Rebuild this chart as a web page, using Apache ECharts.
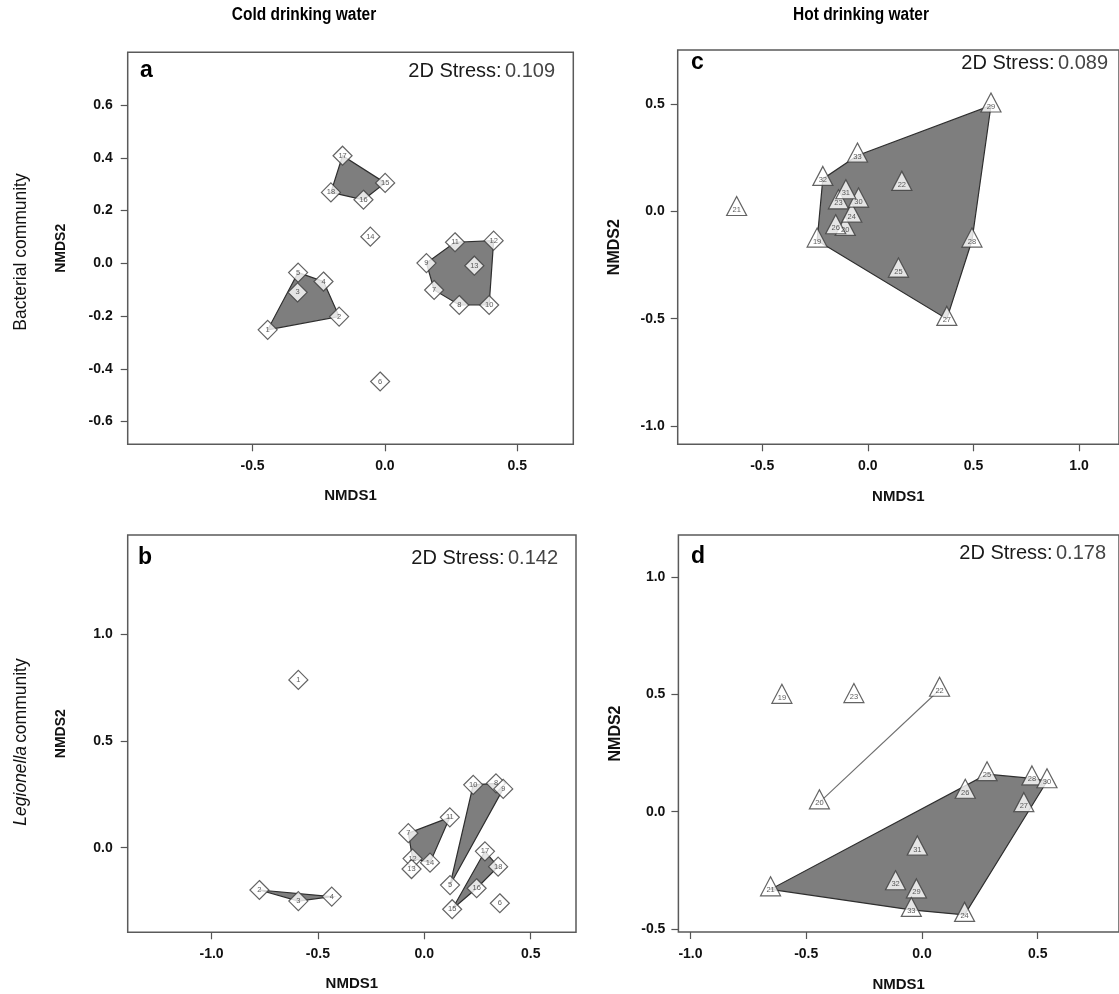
<!DOCTYPE html>
<html>
<head>
<meta charset="utf-8">
<script src="https://cdn.jsdelivr.net/npm/echarts@6/dist/echarts.min.js"></script>
<style>
html,body{margin:0;padding:0;background:#fff;}
#chart{width:1119px;height:994px;}
</style>
</head>
<body>
<div id="chart"></div>
<script>
// ---------------- DATA ----------------
// Panel a: cold drinking water, bacterial community (sites 1-18)
const coldIds = [1,2,3,4,5,6,7,8,9,10,11,12,13,14,15,16,17,18];
const aX = [-0.443,-0.173,-0.330,-0.232,-0.328,-0.018,0.186,0.281,0.157,0.394,0.265,0.411,0.338,-0.055,0.001,-0.081,-0.160,-0.204];
const aY = [-0.252,-0.202,-0.110,-0.069,-0.035,-0.448,-0.101,-0.158,0.001,-0.158,0.080,0.086,-0.009,0.101,0.305,0.241,0.408,0.269];
const aHulls = [[1,2,3,4,5],[7,8,9,10,11,12,13],[15,16,17,18]];
const aStress = '0.109';

// Panel b: cold drinking water, Legionella community (sites 1-18)
const bX = [-0.592,-0.775,-0.592,-0.435,0.121,0.355,-0.075,0.337,0.371,0.230,0.120,-0.055,-0.060,0.027,0.131,0.246,0.285,0.347];
const bY = [0.785,-0.198,-0.250,-0.229,-0.175,-0.260,0.068,0.301,0.275,0.294,0.142,-0.051,-0.100,-0.070,-0.288,-0.190,-0.017,-0.089];
const bHulls = [[2,3,4],[7,11,12,14],[5,8,9,10],[15,16,17,18]];
const bStress = '0.142';

// Panel c: hot drinking water, bacterial community (sites 19-33)
const hotIds = [19,20,21,22,23,24,25,26,27,28,29,30,31,32,33];
const cX = [-0.240,-0.107,-0.621,0.161,-0.139,-0.076,0.145,-0.152,0.374,0.493,0.583,-0.044,-0.104,-0.213,-0.049];
const cY = [-0.136,-0.082,0.011,0.128,0.042,-0.020,-0.276,-0.074,-0.501,-0.136,0.493,0.050,0.089,0.151,0.260];
const cHulls = [[19,20,22,23,24,25,26,27,28,29,30,31,32,33]];
const cStress = '0.089';

// Panel d: hot drinking water, Legionella community (sites 19-33)
const dX = [-0.605,-0.443,-0.654,0.076,-0.294,0.184,0.281,0.187,0.440,0.475,-0.024,0.540,-0.020,-0.114,-0.046];
const dY = [0.490,0.040,-0.331,0.520,0.493,-0.440,0.160,0.085,0.028,0.142,-0.340,0.130,-0.157,-0.305,-0.419];
const dHulls = [[21,24,25,26,27,28,29,30,31,32,33],[20,22]];
const dStress = '0.178';

// Tick values
const aXTicks = [-0.5, 0.0, 0.5];
const aYTicks = [-0.6,-0.4,-0.2,0.0,0.2,0.4,0.6];
const bXTicks = [-1.0,-0.5,0.0,0.5];
const bYTicks = [0.0,0.5,1.0];
const cXTicks = [-0.5,0.0,0.5,1.0];
const cYTicks = [-1.0,-0.5,0.0,0.5];
const dXTicks = [-1.0,-0.5,0.0,0.5];
const dYTicks = [-0.5,0.0,0.5,1.0];

// Texts
const colTitles = ['Cold drinking water','Hot drinking water'];
const xName = 'NMDS1', yName = 'NMDS2';

// ---------------- LAYOUT ----------------
const panels = [
  {ids:coldIds, x:aX, y:aY, hulls:aHulls, stress:aStress, letter:'a', symbol:'diamond',
   grid:{left:127.7, top:52.3, width:445.6, height:392}, xr:[-0.972,0.712], yr:[-0.686,0.800],
   xt:aXTicks, yt:aYTicks, yNameSize:14, yGap:60, xGap:44, yMargin:15,
   letterPos:[140,70.5], stressPos:[555,71]},
  {ids:coldIds, x:bX, y:bY, hulls:bHulls, stress:bStress, letter:'b', symbol:'diamond',
   grid:{left:127.7, top:535, width:448.3, height:397.3}, xr:[-1.394,0.713], yr:[-0.396,1.463],
   xt:bXTicks, yt:bYTicks, yNameSize:14, yGap:60, xGap:44, yMargin:15,
   letterPos:[138,558], stressPos:[558,558]},
  {ids:hotIds, x:cX, y:cY, hulls:cHulls, stress:cStress, letter:'c', symbol:'triangle',
   grid:{left:677.7, top:50, width:446, height:394.3}, xr:[-0.900,1.189], yr:[-1.085,0.7515],
   xt:cXTicks, yt:cYTicks, yNameSize:16, yGap:55, xGap:45, yMargin:13,
   letterPos:[691,63], stressPos:[1108,63.5]},
  {ids:hotIds, x:dX, y:dY, hulls:dHulls, stress:dStress, letter:'d', symbol:'triangle',
   grid:{left:678.4, top:535, width:446, height:397}, xr:[-1.052,0.851], yr:[-0.513,1.180],
   xt:dXTicks, yt:dYTicks, yNameSize:16, yGap:55, xGap:45, yMargin:13,
   letterPos:[691,557], stressPos:[1106,553.5]}
];

function convexHull(pts){
  const p = pts.slice().sort((a,b)=>a[0]-b[0]||a[1]-b[1]);
  if (p.length < 3) return p;
  const cross=(o,a,b)=>(a[0]-o[0])*(b[1]-o[1])-(a[1]-o[1])*(b[0]-o[0]);
  const lower=[], upper=[];
  for (const q of p){ while(lower.length>=2 && cross(lower[lower.length-2],lower[lower.length-1],q)<=0) lower.pop(); lower.push(q); }
  for (let i=p.length-1;i>=0;i--){ const q=p[i]; while(upper.length>=2 && cross(upper[upper.length-2],upper[upper.length-1],q)<=0) upper.pop(); upper.push(q); }
  upper.pop(); lower.pop();
  return lower.concat(upper);
}

const FONT = "'Liberation Sans', Arial, sans-serif";
const grids=[], xAxes=[], yAxes=[], series=[], graphics=[];
const fmt = v => (Math.abs(v) < 1e-9 ? 0 : v).toFixed(1);

panels.forEach((P, i) => {
  grids.push(Object.assign({show:true, borderColor:'#5a5a5a', borderWidth:1.5, backgroundColor:'#fff'}, P.grid));
  xAxes.push({
    type:'value', gridIndex:i, min:P.xr[0], max:P.xr[1], position:'bottom',
    axisLine:{show:false, onZero:false},
    axisTick:{show:true, length:7, lineStyle:{color:'#555', width:1.2}, customValues:P.xt},
    axisLabel:{customValues:P.xt, formatter:fmt, margin:15, fontFamily:FONT, fontWeight:'bold', fontSize:14, color:'#111'},
    splitLine:{show:false},
    name:xName, nameLocation:'middle', nameGap:P.xGap,
    nameTextStyle:{fontFamily:FONT, fontWeight:'bold', fontSize:15, color:'#111'}
  });
  yAxes.push({
    type:'value', gridIndex:i, min:P.yr[0], max:P.yr[1], position:'left',
    axisLine:{show:false, onZero:false},
    axisTick:{show:true, length:7, lineStyle:{color:'#555', width:1.2}, customValues:P.yt},
    axisLabel:{customValues:P.yt, formatter:fmt, margin:P.yMargin, fontFamily:FONT, fontWeight:'bold', fontSize:14, color:'#111'},
    splitLine:{show:false},
    name:yName, nameLocation:'middle', nameGap:P.yGap, nameRotate:90,
    nameTextStyle:{fontFamily:FONT, fontWeight:'bold', fontSize:P.yNameSize, color:'#111'}
  });
  const idx = id => P.ids.indexOf(id);
  // hulls
  series.push({
    type:'custom', xAxisIndex:i, yAxisIndex:i, clip:true, z:2, silent:true,
    data: P.hulls.map(g => [P.x[idx(g[0])], P.y[idx(g[0])]]),
    renderItem: (params, api) => {
      const g = P.hulls[params.dataIndex];
      const pts = convexHull(g.map(id => [P.x[idx(id)], P.y[idx(id)]]));
      const coords = pts.map(p => api.coord(p));
      if (coords.length < 3) {
        return {type:'polyline', shape:{points:coords}, style:{stroke:'#6e6e6e', lineWidth:1.1, fill:null}};
      }
      return {type:'polygon', shape:{points:coords}, style:{fill:'#7e7e7e', stroke:'#2e2e2e', lineWidth:1.2}};
    }
  });
  // points
  const tri = P.symbol === 'triangle';
  series.push({
    type:'scatter', xAxisIndex:i, yAxisIndex:i, z:5, silent:true,
    symbol:P.symbol,
    symbolSize: tri ? [20,19] : [19,19],
    symbolOffset: tri ? [0,-3] : [0,0],
    itemStyle:{color:'#fff', borderColor:'#3c3c3c', borderWidth:1.2},
    label:{show:true, position:'inside', offset: tri ? [0,4] : [0,0],
      formatter: p => String(p.value[2]), fontFamily:FONT, fontSize:7.5, color:'#333'},
    data: P.ids.map((id, k) => [P.x[k], P.y[k], id])
  });
  graphics.push({type:'text', x:P.letterPos[0], y:P.letterPos[1],
    style:{text:P.letter, font:"bold 23px 'Liberation Sans', Arial, sans-serif", fill:'#000', align:'left', verticalAlign:'middle'}});
  graphics.push({type:'text', x:P.stressPos[0], y:P.stressPos[1],
    style:{text:'{a|2D Stress:} {b|' + P.stress + '}', align:'right', verticalAlign:'middle',
      rich:{a:{fontFamily:FONT, fontSize:20, fill:'#1a1a1a'}, b:{fontFamily:FONT, fontSize:20, fill:'#444'}}}});
});

// column titles (condensed look via horizontal scaling)
graphics.push({type:'text', x:304, y:15, scaleX:0.86, style:{text:colTitles[0], font:"bold 18px " + FONT, fill:'#000', align:'center', verticalAlign:'middle'}});
graphics.push({type:'text', x:861, y:15, scaleX:0.86, style:{text:colTitles[1], font:"bold 18px " + FONT, fill:'#000', align:'center', verticalAlign:'middle'}});
// row titles
graphics.push({type:'text', x:21, y:252, rotation:Math.PI/2, scaleX:0.92,
  style:{text:'Bacterial community', font:"19px " + FONT, fill:'#111', align:'center', verticalAlign:'middle'}});
graphics.push({type:'text', x:21, y:742, rotation:Math.PI/2, scaleX:0.92,
  style:{text:'{i|Legionella} {n|community}', align:'center', verticalAlign:'middle',
    rich:{i:{fontFamily:FONT, fontSize:19, fontStyle:'italic', fill:'#111'}, n:{fontFamily:FONT, fontSize:19, fill:'#111'}}}});

const chart = echarts.init(document.getElementById('chart'), null, {renderer:'canvas'});
chart.setOption({
  animation:false,
  backgroundColor:'#fff',
  grid:grids, xAxis:xAxes, yAxis:yAxes, series:series, graphic:graphics
});
</script>
</body>
</html>
